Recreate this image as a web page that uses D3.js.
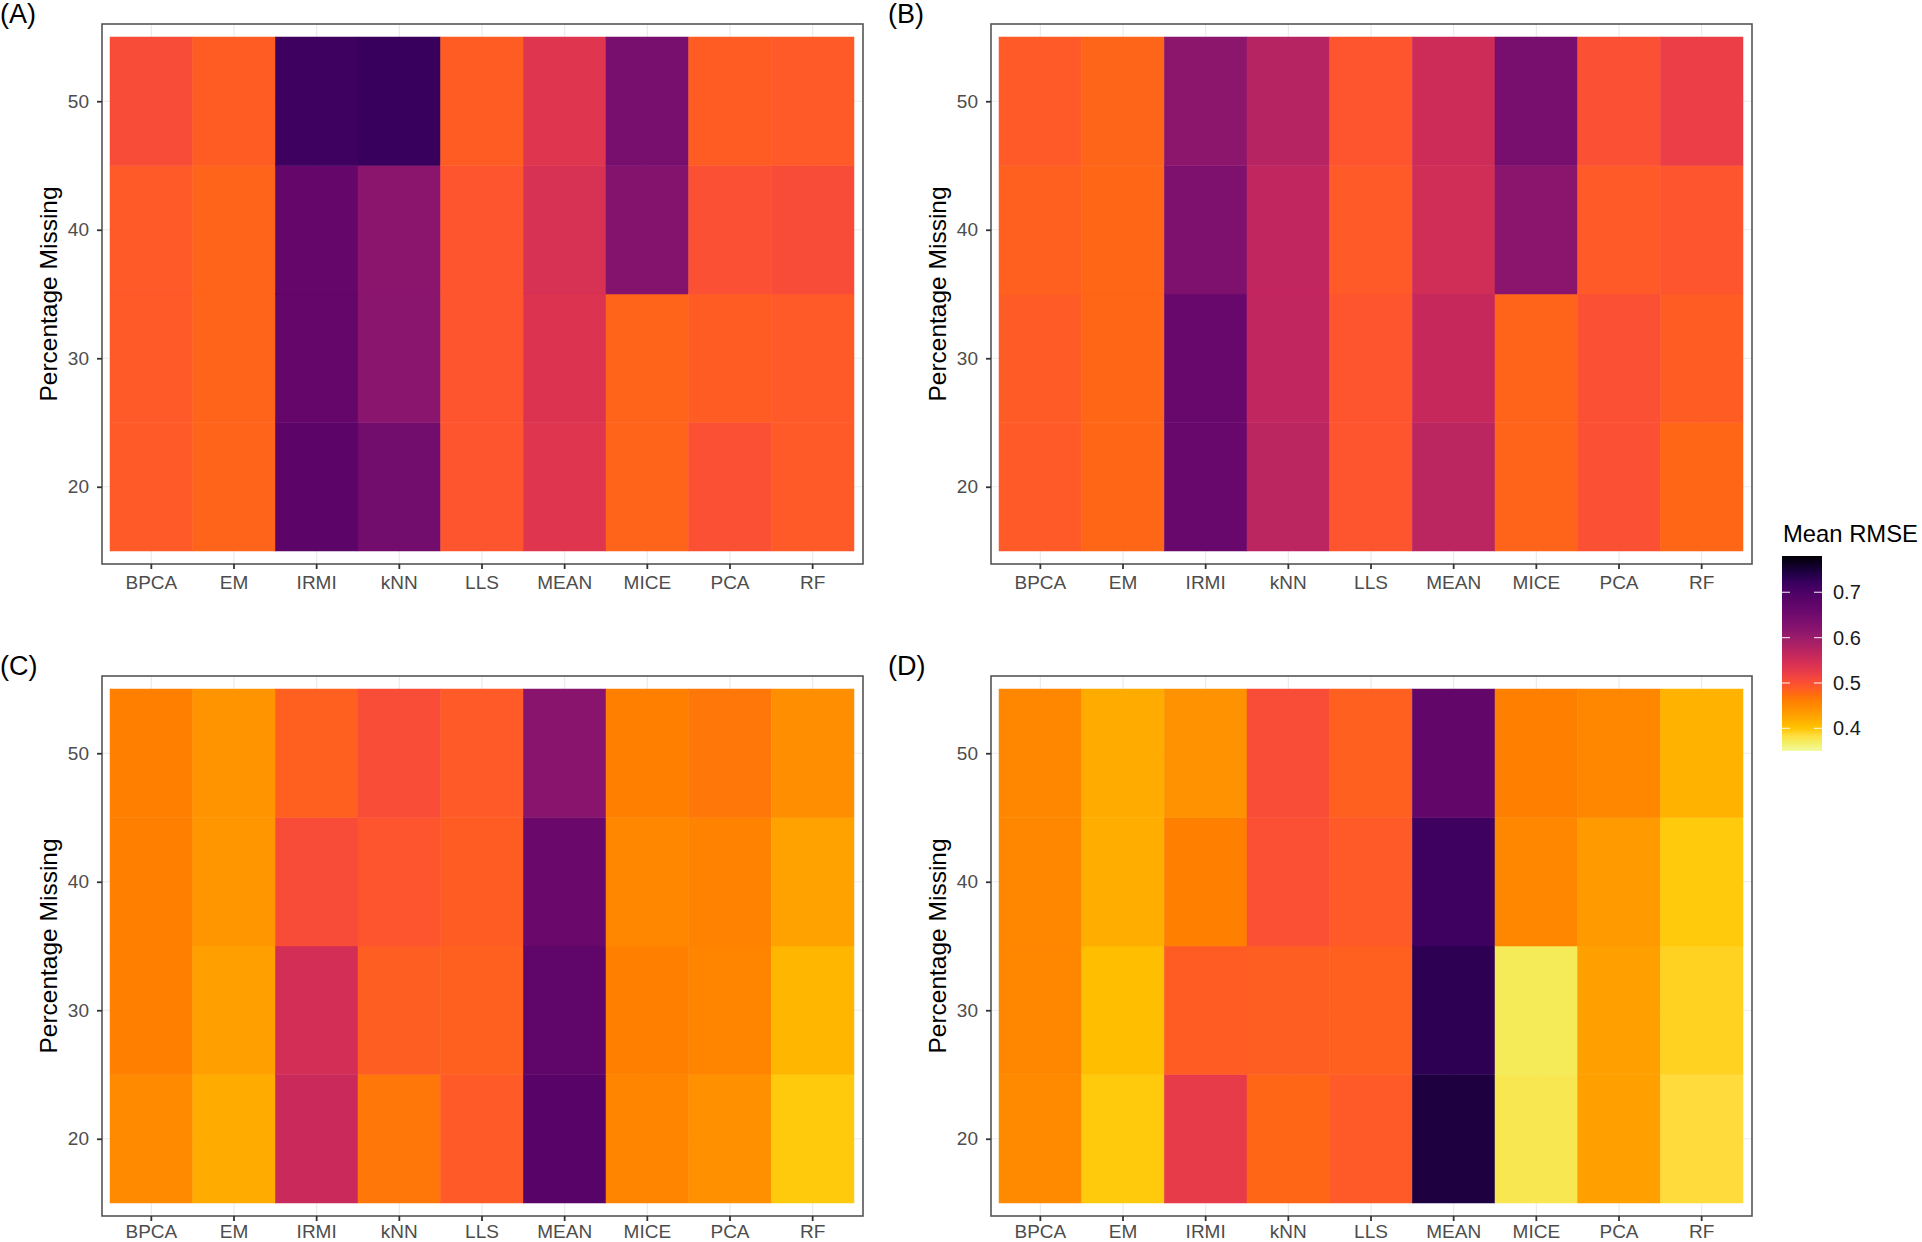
<!DOCTYPE html>
<html>
<head>
<meta charset="utf-8">
<script src="https://cdn.jsdelivr.net/npm/d3@7"></script>
<style>
  html, body { margin: 0; padding: 0; background: #fff; }
  svg { display: block; font-family: "Liberation Sans", Arial, sans-serif; }
</style>
</head>
<body>
<svg id="chart" width="1922" height="1242"></svg>
<script>
// ---------------- DATA ----------------
const methods = ["BPCA", "EM", "IRMI", "kNN", "LLS", "MEAN", "MICE", "PCA", "RF"];
const percents = [20, 30, 40, 50];
const yTicks = [20, 30, 40, 50];
const legendTicks = [0.4, 0.5, 0.6, 0.7];
const panelLabels = ["(A)", "(B)", "(C)", "(D)"];

// values per method, ordered by percents 20,30,40,50
const panelA = {
  BPCA: [0.490, 0.490, 0.490, 0.505],
  EM:   [0.482, 0.482, 0.482, 0.488],
  IRMI: [0.678, 0.668, 0.668, 0.715],
  kNN:  [0.648, 0.618, 0.617, 0.722],
  LLS:  [0.495, 0.495, 0.495, 0.488],
  MEAN: [0.535, 0.538, 0.543, 0.535],
  MICE: [0.482, 0.482, 0.625, 0.640],
  PCA:  [0.500, 0.488, 0.500, 0.488],
  RF:   [0.490, 0.490, 0.505, 0.490]
};
const panelB = {
  BPCA: [0.490, 0.489, 0.485, 0.490],
  EM:   [0.480, 0.480, 0.480, 0.481],
  IRMI: [0.662, 0.662, 0.632, 0.615],
  kNN:  [0.570, 0.565, 0.565, 0.575],
  LLS:  [0.495, 0.495, 0.490, 0.495],
  MEAN: [0.570, 0.560, 0.550, 0.552],
  MICE: [0.482, 0.482, 0.617, 0.640],
  PCA:  [0.500, 0.500, 0.490, 0.500],
  RF:   [0.480, 0.488, 0.495, 0.520]
};
const panelC = {
  BPCA: [0.450, 0.460, 0.461, 0.460],
  EM:   [0.421, 0.430, 0.438, 0.440],
  IRMI: [0.557, 0.548, 0.505, 0.485],
  kNN:  [0.467, 0.487, 0.495, 0.503],
  LLS:  [0.490, 0.485, 0.488, 0.490],
  MEAN: [0.686, 0.675, 0.660, 0.620],
  MICE: [0.456, 0.460, 0.453, 0.460],
  PCA:  [0.443, 0.456, 0.458, 0.467],
  RF:   [0.397, 0.412, 0.428, 0.445]
};
const panelD = {
  BPCA: [0.450, 0.453, 0.453, 0.453],
  EM:   [0.397, 0.405, 0.418, 0.421],
  IRMI: [0.525, 0.488, 0.460, 0.442],
  kNN:  [0.480, 0.487, 0.500, 0.503],
  LLS:  [0.490, 0.485, 0.490, 0.485],
  MEAN: [0.745, 0.730, 0.715, 0.670],
  MICE: [0.375, 0.372, 0.453, 0.460],
  PCA:  [0.430, 0.430, 0.435, 0.453],
  RF:   [0.385, 0.392, 0.397, 0.414]
};
const panelsData = [panelA, panelB, panelC, panelD];

// colour palette (inferno-like, reversed)
const paletteValues = [0.35, 0.37, 0.385, 0.40, 0.42, 0.44, 0.46, 0.48, 0.49, 0.50, 0.52, 0.54, 0.56, 0.58, 0.60, 0.62, 0.64, 0.66, 0.68, 0.70, 0.72, 0.74, 0.76, 0.78];
const paletteColors = ["#F2FAA2", "#F4EC5C", "#FFDC3C", "#FFC400", "#FFAC00", "#FF9400", "#FF8000", "#FF6616", "#FF5A28", "#FC5034",
                       "#EC3E46", "#DA3252", "#C6285C", "#B02264", "#9A1C6A", "#88146E", "#780E6E", "#6A086C", "#5C0468", "#4C0266",
                       "#3A005E", "#220048", "#100028", "#000004"];
const legendMin = 0.35, legendMax = 0.78;

// ---------------- DRAW ----------------
const svg = d3.select("#chart");
svg.append("rect").attr("width", 1922).attr("height", 1242).attr("fill", "#fff");

const color = d3.scaleLinear().domain(paletteValues).range(paletteColors).interpolate(d3.interpolateRgb).clamp(true);

const PW = 761, PH = 540;
const panelPos = [ {L: 102, T: 24}, {L: 991, T: 24}, {L: 102, T: 676}, {L: 991, T: 676} ];

panelsData.forEach((pdata, i) => {
  const {L, T} = panelPos[i];
  const g = svg.append("g");
  const x = d3.scaleBand().domain(methods).range([L + 8, L + PW - 9]).paddingInner(0).paddingOuter(0);
  const y = d3.scaleLinear().domain([15, 55]).range([T + 527, T + 13]);

  // panel background + grid
  g.append("rect").attr("x", L).attr("y", T).attr("width", PW).attr("height", PH).attr("fill", "#fff");
  g.selectAll(".gx").data(methods).enter().append("line")
    .attr("x1", d => x(d) + x.bandwidth() / 2).attr("x2", d => x(d) + x.bandwidth() / 2)
    .attr("y1", T).attr("y2", T + PH).attr("stroke", "#EBEBEB").attr("stroke-width", 1.2);
  g.selectAll(".gy").data(yTicks).enter().append("line")
    .attr("y1", d => y(d)).attr("y2", d => y(d))
    .attr("x1", L).attr("x2", L + PW).attr("stroke", "#EBEBEB").attr("stroke-width", 1.2);

  // tiles
  const cells = [];
  methods.forEach(m => percents.forEach((p, k) => cells.push({m, p, v: pdata[m][k]})));
  g.selectAll(".tile").data(cells).enter().append("rect")
    .attr("x", d => x(d.m)).attr("width", x.bandwidth())
    .attr("y", d => y(d.p + 5)).attr("height", d => y(d.p - 5) - y(d.p + 5))
    .attr("fill", d => color(d.v))
    .attr("stroke", d => color(d.v)).attr("stroke-width", 0.5);

  // border
  g.append("rect").attr("x", L).attr("y", T).attr("width", PW).attr("height", PH)
    .attr("fill", "none").attr("stroke", "#555").attr("stroke-width", 1.6);

  // axes
  const xAxis = d3.axisBottom(x).tickSize(5).tickPadding(i < 2 ? 7 : 3.5).tickSizeOuter(0);
  const gx = g.append("g").attr("transform", `translate(0,${T + PH})`).call(xAxis);
  gx.select(".domain").remove();
  gx.selectAll("line").attr("stroke", "#333").attr("stroke-width", 1.8);
  gx.selectAll("text").attr("fill", "#4D4D4D").style("font-size", "19px").style("font-family", "'Liberation Sans', Arial, sans-serif");

  const yAxis = d3.axisLeft(y).tickValues(yTicks).tickSize(5).tickPadding(8).tickSizeOuter(0);
  const gy = g.append("g").attr("transform", `translate(${L},0)`).call(yAxis);
  gy.select(".domain").remove();
  gy.selectAll("line").attr("stroke", "#333").attr("stroke-width", 1.8);
  gy.selectAll("text").attr("fill", "#4D4D4D").style("font-size", "19px").style("font-family", "'Liberation Sans', Arial, sans-serif");

  // axis title
  g.append("text")
    .attr("transform", `translate(${L - 54},${T + PH / 2}) rotate(-90)`)
    .attr("text-anchor", "middle").attr("dy", "0.35em")
    .style("font-size", "24.5px").attr("fill", "#000")
    .text("Percentage Missing");

  // panel tag
  g.append("text")
    .attr("x", L - 102 + (i % 2 === 1 ? -1 : 0)).attr("y", T - 1)
    .style("font-size", "27px").attr("fill", "#000")
    .text(panelLabels[i]);
});

// ---------------- LEGEND ----------------
const LX = 1782, LY0 = 556, LY1 = 751, LW = 40;
const ly = d3.scaleLinear().domain([legendMin, legendMax]).range([LY1, LY0]);
const defs = svg.append("defs");
const grad = defs.append("linearGradient").attr("id", "lg").attr("x1", 0).attr("y1", 1).attr("x2", 0).attr("y2", 0);
d3.range(0, 1.0001, 0.02).forEach(t => {
  const v = legendMin + t * (legendMax - legendMin);
  grad.append("stop").attr("offset", t).attr("stop-color", color(v));
});
svg.append("text").attr("x", LX + 1).attr("y", 542).style("font-size", "23.8px").attr("fill", "#000").text("Mean RMSE");
svg.append("rect").attr("x", LX).attr("y", LY0).attr("width", LW).attr("height", LY1 - LY0).attr("fill", "url(#lg)");
legendTicks.forEach(v => {
  svg.append("line").attr("x1", LX).attr("x2", LX + 8).attr("y1", ly(v)).attr("y2", ly(v)).attr("stroke", "#fff").attr("stroke-opacity", 0.8).attr("stroke-width", 1.2);
  svg.append("line").attr("x1", LX + LW - 8).attr("x2", LX + LW).attr("y1", ly(v)).attr("y2", ly(v)).attr("stroke", "#fff").attr("stroke-opacity", 0.8).attr("stroke-width", 1.2);
});
svg.selectAll(".lt").data(legendTicks).enter().append("text")
  .attr("x", LX + LW + 11).attr("y", d => ly(d)).attr("dy", "0.35em")
  .style("font-size", "20px").attr("fill", "#1A1A1A")
  .text(d => d3.format(".1f")(d));
</script>
</body>
</html>
